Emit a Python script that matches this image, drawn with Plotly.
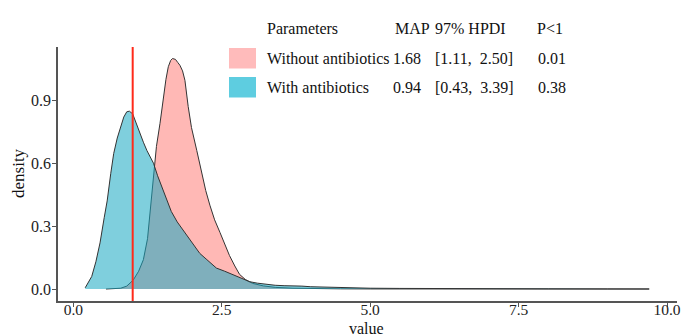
import plotly.graph_objects as go

# ---- data ----
with_x = [0.20, 0.25, 0.31, 0.38, 0.45, 0.52, 0.57, 0.63, 0.68, 0.74, 0.79, 0.85, 0.90, 0.945,
          1.00, 1.06, 1.12, 1.18, 1.24, 1.29, 1.35, 1.42, 1.50, 1.57, 1.65, 1.75, 1.85, 1.95,
          2.05, 2.13, 2.25, 2.41, 2.55, 2.69, 2.83, 2.97, 3.10, 3.24, 3.40, 3.55, 3.70, 3.85,
          4.0, 4.3, 4.6, 5.0, 5.5, 6.0, 7.0, 8.0, 9.0, 9.7]
with_y = [0.006, 0.03, 0.06, 0.13, 0.22, 0.34, 0.42, 0.55, 0.646, 0.72, 0.77, 0.82, 0.845, 0.848,
          0.835, 0.79, 0.74, 0.70, 0.66, 0.63, 0.60, 0.54, 0.48, 0.42, 0.37, 0.32, 0.28, 0.24,
          0.20, 0.17, 0.14, 0.10, 0.085, 0.067, 0.05, 0.035, 0.028, 0.022, 0.018, 0.016, 0.016, 0.014,
          0.011, 0.008, 0.006, 0.004, 0.003, 0.002, 0.001, 0.001, 0.0005, 0.0003]

without_x = [0.55, 0.70, 0.80, 0.90, 1.01, 1.10, 1.18, 1.25, 1.30, 1.35, 1.40, 1.46, 1.515, 1.56,
             1.60, 1.64, 1.67, 1.72, 1.76, 1.795, 1.84, 1.88, 1.935, 1.99, 2.08, 2.16, 2.23, 2.30,
             2.38, 2.47, 2.55, 2.63, 2.72, 2.80, 2.90, 3.02, 3.2, 3.4, 3.7, 4.0, 4.5, 5.0, 6.0,
             7.0, 8.0, 9.0, 9.7]
without_y = [0.0, 0.001, 0.004, 0.014, 0.043, 0.085, 0.14, 0.24, 0.40, 0.55, 0.68, 0.79, 0.916, 1.00,
             1.06, 1.09, 1.099, 1.095, 1.08, 1.067, 1.04, 0.995, 0.87, 0.77, 0.66, 0.55, 0.47, 0.40,
             0.33, 0.27, 0.21, 0.16, 0.11, 0.07, 0.045, 0.027, 0.015, 0.008, 0.004, 0.002, 0.001,
             0.0005, 0.0002, 0.0001, 0.0001, 0.0001, 0.0001]

ref_value = 1.0

x_ticks = [0.0, 2.5, 5.0, 7.5, 10.0]
x_tick_labels = ["0.0", "2.5", "5.0", "7.5", "10.0"]
y_ticks = [0.0, 0.3, 0.6, 0.9]
y_tick_labels = ["0.0", "0.3", "0.6", "0.9"]

legend_header = ["Parameters", "MAP", "97% HPDI", "P<1"]
groups = ["Without antibiotics", "With antibiotics"]
map_vals = ["1.68", "0.94"]
hpdi_vals = ["[1.11,  2.50]", "[0.43,  3.39]"]
p_vals = ["0.01", "0.38"]

# ---- styling ----
FONT = "Liberation Serif"
OFF = 8  # page body margin offset
W, H = 694 - OFF, 336 - OFF
ML, MR, MT, MB = 58 - OFF, 17, 47 - OFF, 35
PW, PH = W - ML - MR, H - MT - MB

def px(xp):  # reference window pixel -> paper
    return (xp - OFF - ML) / PW

def py(yp):
    return (H - MB - (yp - OFF)) / PH

fig = go.Figure()
fig.add_trace(go.Scatter(x=without_x, y=without_y, mode="lines", fill="tozeroy",
                         fillcolor="#FFB8B5", line=dict(color="#333333", width=1),
                         name=groups[0], showlegend=False, hoverinfo="skip"))
fig.add_trace(go.Scatter(x=with_x, y=with_y, mode="lines", fill="tozeroy",
                         fillcolor="rgba(22,168,193,0.55)", line=dict(color="#333333", width=1),
                         name=groups[1], showlegend=False, hoverinfo="skip"))

fig.add_shape(type="line", xref="x", yref="paper", x0=ref_value, x1=ref_value, y0=0, y1=1,
              line=dict(color="#FF2A1A", width=2))

# legend keys
key_colors = ["#FFBBBB", "#5ECDE0"]
key_tops = [48, 77]
for c, t in zip(key_colors, key_tops):
    fig.add_shape(type="rect", xref="paper", yref="paper",
                  x0=px(229), x1=px(256), y0=py(t + 20.5), y1=py(t),
                  fillcolor=c, line=dict(width=0), layer="above")

ann = []
def txt(s, xl, yc, size=16):
    ann.append(dict(text=s, x=px(xl), y=py(yc), xref="paper", yref="paper",
                    xanchor="left", yanchor="middle", showarrow=False,
                    font=dict(family=FONT, size=size, color="#111111")))

hx = [264.5, 393, 433, 535]
for h, xl in zip(legend_header, hx):
    txt(h, xl, 29)
row_y = [58.5, 87]
for i in range(2):
    txt(groups[i], 264.5, row_y[i])
    txt(map_vals[i], 390.5, row_y[i])
    txt(hpdi_vals[i], 433, row_y[i])
    txt(p_vals[i], 536, row_y[i])

# axis titles
ann.append(dict(text="value", x=px(366), y=py(328.5), xref="paper", yref="paper",
                xanchor="center", yanchor="middle", showarrow=False,
                font=dict(family=FONT, size=16, color="#111111")))
ann.append(dict(text="density", x=px(18), y=py(173), xref="paper", yref="paper",
                xanchor="center", yanchor="middle", showarrow=False, textangle=-90,
                font=dict(family=FONT, size=17, color="#111111")))

fig.update_layout(
    width=W, height=H,
    margin=dict(l=ML, r=MR, t=MT, b=MB, pad=0),
    paper_bgcolor="white", plot_bgcolor="white",
    font=dict(family=FONT, size=16, color="#222222"),
    annotations=ann,
    showlegend=False,
    xaxis=dict(range=[-0.258, 10.168], tickvals=x_ticks, ticktext=x_tick_labels,
               showgrid=False, zeroline=False, showline=True, linecolor="#555555", linewidth=1.5,
               ticks="outside", ticklen=4, tickcolor="#555555", tickwidth=1, automargin=False,
               ticklabelstandoff=-10,
               tickfont=dict(family=FONT, size=15.5, color="#222222")),
    yaxis=dict(range=[-0.057, 1.154], tickvals=y_ticks, ticktext=y_tick_labels,
               showgrid=False, zeroline=False, showline=True, linecolor="#555555", linewidth=1.5,
               ticks="outside", ticklen=4, tickcolor="#555555", tickwidth=1, automargin=False,
               ticklabelstandoff=-2,
               tickfont=dict(family=FONT, size=16, color="#222222")),
)

fig.write_html("out.html")
